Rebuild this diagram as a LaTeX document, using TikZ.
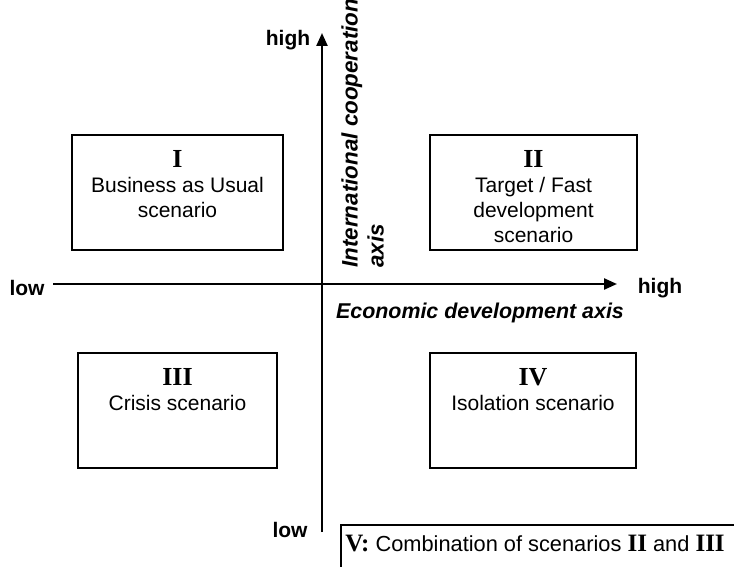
\documentclass[tikz,border=0pt]{standalone}
\usepackage{fontspec}
\setmainfont{Liberation Sans}
\newfontfamily\romfont{Liberation Serif}
\usetikzlibrary{arrows.meta}
\newcommand{\rnum}[1]{{\romfont\bfseries\fontsize{13}{12.5}\selectfont #1}}
\begin{document}
\begin{tikzpicture}[x=0.5pt,y=-0.5pt,
  every node/.style={inner sep=0pt, font=\fontsize{10.5}{12.5}\selectfont},
  scbox/.style={draw, line width=1.3pt, minimum height=57.5pt},
  sctext/.style={anchor=north, align=center},
  axisline/.style={line width=1.2pt, -{Triangle[length=6.5pt,width=5.5pt]}},
  axlabel/.style={font=\fontsize{10.5}{12.5}\selectfont\bfseries},
  axtitle/.style={font=\fontsize{10.7}{12.5}\selectfont\bfseries\itshape}]
\clip (0,0) rectangle (734,567);
\fill[white] (0,0) rectangle (734,567);
% axes
\coordinate (hs) at (53,284);
\coordinate (he) at (617,284);
\coordinate (vs) at (322,532);
\coordinate (ve) at (322,33);
\draw[axisline] (hs) -- (he);
\draw[axisline] (vs) -- (ve);
% axis labels
\node[axlabel] (lowl) at (27,288) {low};
\node[axlabel] (highr) at (660,288) {high};
\node[axlabel] (hight) at (288,40) {high};
\node[axlabel] (lowb) at (290,530) {low};
\node[axtitle] (ecotitle) at (480,313) {Economic development axis};
\node[axtitle, font=\fontsize{11.2}{13}\selectfont\bfseries\itshape, rotate=90, align=left, anchor=north west] (cooptitle) at (341,268) {International cooperation\\axis};
% boxes
\node[scbox, minimum width=105.5pt] (b1) at (177.5,192.5) {};
\node[scbox, minimum width=103.5pt] (b2) at (533.5,192.5) {};
\node[scbox, minimum width=99.5pt] (b3) at (177.5,410.5) {};
\node[scbox, minimum width=103pt] (b4) at (533,410.5) {};
\node[sctext] (t1) at ([yshift=-8pt]b1.north) {\rnum{I}\\Business as Usual\\scenario};
\node[sctext] (t2) at ([yshift=-8pt]b2.north) {\rnum{II}\\Target / Fast\\development\\scenario};
\node[sctext] (t3) at ([yshift=-8pt]b3.north) {\rnum{III}\\Crisis scenario};
\node[sctext] (t4) at ([yshift=-8pt]b4.north) {\rnum{IV}\\Isolation scenario\hspace{9pt}};
% box V (partly outside)
\coordinate (v1) at (760,525);
\coordinate (v2) at (341,525);
\coordinate (v3) at (341,600);
\draw[line width=1.3pt] (v1) -- (v2) -- (v3);
\node[anchor=west, font=\fontsize{10.9}{12.5}\selectfont] (t5) at (345,544) {{\romfont\bfseries\fontsize{12.5}{12.5}\selectfont V:} Combination of scenarios {\romfont\bfseries\fontsize{12.5}{12.5}\selectfont II} and {\romfont\bfseries\fontsize{12.5}{12.5}\selectfont III}};
\end{tikzpicture}
\end{document}
